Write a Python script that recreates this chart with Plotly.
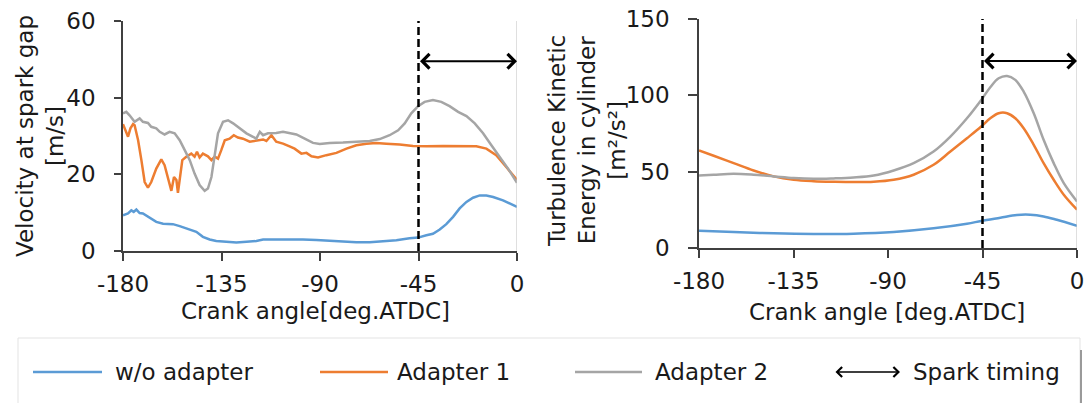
import plotly.graph_objects as go

W, H = 1087, 403

# ---------------- data: velocity at spark gap (left) ----------------
vel_wo_x = [-180, -177.7, -176.2, -175.1, -173.9, -172.4, -170.9, -167.8, -164.8, -161.7, -157.2,
            -154.1, -149.5, -146.5, -143.5, -140.4, -137.4, -132.8, -128.2, -123.6, -119.1, -116,
            -110, -103.9, -97.8, -91.7, -85.6, -79.5, -73.4, -67.3, -61.2, -55.1, -49.1, -45.2,
            -41.4, -38.4, -35.3, -32.3, -29.2, -26.2, -23.1, -20.1, -17, -14, -10.9, -6.4, 0]
vel_wo_y = [9.3, 9.8, 10.6, 10.2, 10.8, 9.9, 9.8, 8.7, 7.6, 7.1, 7.0,
            6.5, 5.6, 5.0, 3.7, 3.0, 2.6, 2.4, 2.2, 2.4, 2.6, 3.0,
            3.0, 3.1, 3.0, 2.9, 2.7, 2.4, 2.3, 2.3, 2.5, 2.8, 3.3, 3.5,
            4.1, 4.5, 5.6, 7.0, 8.9, 11.1, 12.8, 13.9, 14.5, 14.5, 14.1, 13.2, 11.5]

vel_a1_x = [-180, -178.5, -177.7, -176.6, -175.4, -174.7, -173.1, -171.6, -170.1, -168.6, -167.1,
            -164.8, -162.5, -161, -159.4, -157.9, -156.7, -155.6, -154.9, -153.8, -152.9, -151.1,
            -148.8, -147.3, -146.2, -145, -143.5, -141.2, -139.6, -138.1, -136.6, -135.1, -133.5,
            -131.3, -129.4, -127.5, -125.2, -122.1, -119.1, -116, -114.5, -112.2, -110, -106.9,
            -103.9, -101.6, -98.5, -96.2, -93.9, -90.9, -87.1, -82.5, -77.9, -73.4, -68.8, -64.3,
            -59.7, -53.6, -47.5, -41.4, -33.8, -26.2, -18.6, -14, -9.5, -4.9, 0]
vel_a1_y = [33.1, 30.7, 29.8, 32.0, 33.1, 32.8, 28.9, 23.7, 18.0, 16.5, 18.0,
            21.5, 23.9, 22.4, 18.5, 15.7, 19.3, 18.5, 15.2, 20.2, 23.7, 24.6,
            25.4, 24.6, 25.9, 24.4, 25.4, 24.7, 23.7, 24.6, 24.1, 26.3, 28.9,
            29.3, 30.2, 29.6, 29.3, 28.5, 28.7, 29.1, 28.7, 30.2, 28.5, 28.0,
            27.3, 26.7, 25.4, 25.6, 24.7, 24.4, 25.0, 25.6, 26.7, 27.6, 28.0, 28.2,
            28.0, 27.8, 27.4, 27.3, 27.4, 27.4, 27.3, 26.7, 25.0, 21.9, 18.5]

vel_a2_x = [-180, -178.5, -177, -174.7, -172.4, -170.9, -168.6, -167.1, -164.8, -163.2, -161,
            -158.7, -156.4, -154.1, -151.8, -149.5, -147.3, -145, -142.7, -141.2, -139.6, -138.1,
            -136.6, -134.3, -132, -129.7, -126.7, -123.6, -120.6, -119.1, -117.5, -116, -113.8,
            -110, -106.9, -103.9, -100.8, -97, -93.2, -90.1, -85.6, -79.5, -73.4, -67.3, -62.7,
            -58.2, -54.3, -51.3, -48.3, -45.2, -42.2, -38.4, -34.6, -30.8, -26.9, -23.1, -19.3,
            -15.5, -11.7, -7.9, -4.1, 0]
vel_a2_y = [35.9, 36.3, 35.4, 33.7, 34.6, 33.7, 33.4, 32.4, 32.0, 31.1, 30.4,
            31.1, 30.7, 28.9, 26.3, 23.7, 20.2, 17.2, 15.7, 16.3, 19.3, 25.4,
            30.7, 33.7, 34.1, 33.3, 32.0, 30.7, 29.8, 29.3, 31.1, 30.2, 30.7,
            30.8, 31.1, 30.8, 30.4, 29.3, 28.2, 27.9, 28.2, 28.3, 28.5, 28.7, 29.2,
            30.2, 31.5, 33.3, 35.9, 37.8, 38.9, 39.4, 38.9, 37.8, 36.3, 35.2, 33.3,
            30.7, 27.6, 24.6, 21.5, 17.8]

# ---------------- data: turbulence kinetic energy (right) ----------------
tke_wo_x = [-180, -163.5, -144.4, -125.4, -106.4, -87.3, -68.3, -52.4, -45.6, -36.5, -28.6,
            -22.3, -15.9, -9.6, 0]
tke_wo_y = [11.3, 10.5, 9.6, 9.2, 9.4, 10.5, 12.9, 15.9, 17.7, 19.8, 21.6, 21.8, 20.7, 18.5, 14.6]

tke_x = [-180, -173, -163.5, -154, -144.4, -134.9, -125.4, -115.9, -106.4, -96.8, -87.3, -77.8,
         -68.3, -60.3, -52.4, -45.6, -41.3, -37.3, -33.3, -29.4, -25.4, -20.6, -15.9, -11.1,
         -6.3, 0]
tke_a1_y = [63.9, 60.4, 55.6, 50.8, 46.9, 44.7, 43.8, 43.4, 43.2, 43.4, 44.7, 48.0,
            54.5, 63.2, 71.9, 79.6, 85.0, 88.3, 88.3, 85.0, 78.5, 67.6, 55.6, 44.7, 34.9, 25.1]
tke_a2_y = [47.5, 48.0, 48.6, 48.0, 46.9, 45.8, 45.3, 45.6, 46.2, 47.5, 50.8, 55.6,
            63.2, 73.0, 85.0, 97.0, 105.3, 111.2, 112.7, 110.1, 102.5, 88.3, 70.9, 55.6, 42.5, 30.5]

x_ticks = [-180, -135, -90, -45, 0]
x_ticktext = ["-180", "-135", "-90", "-45", "0"]
spark_angle = -45
series_names = ["w/o adapter", "Adapter 1", "Adapter 2"]
colors = ["#5B9BD5", "#ED7D31", "#A5A5A5"]

FONT = "DejaVu Sans"
FS = 23
TXT = "#1a1a1a"
AX = "#404040"


def px(x):
    return x / W


def py(y):
    return 1 - y / H


fig = go.Figure()

# left traces
for xs, ys, c, n in [(vel_wo_x, vel_wo_y, colors[0], series_names[0]),
                     (vel_a1_x, vel_a1_y, colors[1], series_names[1]),
                     (vel_a2_x, vel_a2_y, colors[2], series_names[2])]:
    fig.add_trace(go.Scatter(x=xs, y=ys, mode="lines", name=n, showlegend=False,
                             line=dict(color=c, width=2.5), xaxis="x", yaxis="y"))

# right traces
for xs, ys, c, n in [(tke_wo_x, tke_wo_y, colors[0], series_names[0]),
                     (tke_x, tke_a1_y, colors[1], series_names[1]),
                     (tke_x, tke_a2_y, colors[2], series_names[2])]:
    fig.add_trace(go.Scatter(x=xs, y=ys, mode="lines", name=n, showlegend=False,
                             line=dict(color=c, width=2.5, shape="spline", smoothing=1.0),
                             xaxis="x2", yaxis="y2"))

common_x = dict(range=[-180, 0], tickvals=x_ticks, ticktext=x_ticktext, showgrid=False,
                zeroline=False, showline=True, linecolor=AX, linewidth=1.5, ticks="outside",
                ticklen=8, tickcolor=AX, tickwidth=1.5, tickfont=dict(family=FONT, size=FS, color=TXT),
                ticklabelstandoff=4, automargin=False)
common_y = dict(showgrid=False, zeroline=False, showline=True, linecolor=AX, linewidth=1.5,
                ticks="outside", tickcolor=AX, tickwidth=1.5, automargin=False,
                tickfont=dict(family=FONT, size=FS, color=TXT), ticklabelstandoff=14)

fig.update_layout(
    template="none",
    width=W, height=H, autosize=False,
    margin=dict(l=0, r=0, t=0, b=0, pad=0),
    paper_bgcolor="white", plot_bgcolor="white",
    showlegend=False,
    xaxis=dict(domain=[px(123), px(517)], anchor="y", **common_x),
    yaxis=dict(domain=[py(251), py(21)], anchor="x", range=[0, 60], tickvals=[0, 20, 40, 60],
               ticklen=7, **common_y),
    xaxis2=dict(domain=[px(699), px(1077)], anchor="y2", **common_x),
    yaxis2=dict(domain=[py(248), py(19)], anchor="x2", range=[0, 150], tickvals=[0, 50, 100, 150],
                ticklen=9, **common_y),
)

# right border lines, spark timing dashed lines and arrows
for xr, yr, ytop, yarrow in [("x", "y", 60, 49.5), ("x2", "y2", 150, 122.5)]:
    fig.add_shape(type="line", xref=xr, yref=yr, x0=0, x1=0, y0=0, y1=ytop,
                  line=dict(color="#bfbfbf", width=1))
    fig.add_shape(type="line", xref=xr, yref=yr, x0=spark_angle, x1=spark_angle, y0=0, y1=ytop,
                  line=dict(color="black", width=2.5, dash="8px,4px"))
    fig.add_annotation(xref=xr, yref=yr, axref=xr, ayref=yr, x=0, y=yarrow,
                       ax=spark_angle, ay=yarrow, text="", showarrow=True,
                       arrowside="end+start", arrowhead=4, startarrowhead=4,
                       arrowsize=1.4, startarrowsize=1.4, arrowwidth=2, arrowcolor="black")

# axis titles
fig.add_annotation(xref="paper", yref="paper", x=px(315), y=py(311), text="Crank angle[deg.ATDC]",
                   showarrow=False, font=dict(family=FONT, size=FS, color=TXT),
                   xanchor="center", yanchor="middle")
fig.add_annotation(xref="paper", yref="paper", x=px(887), y=py(312), text="Crank angle [deg.ATDC]",
                   showarrow=False, font=dict(family=FONT, size=FS, color=TXT),
                   xanchor="center", yanchor="middle")
fig.add_annotation(xref="paper", yref="paper", x=px(40), y=py(136),
                   text="Velocity at spark gap<br>[m/s]", textangle=-90,
                   showarrow=False, font=dict(family=FONT, size=FS, color=TXT),
                   xanchor="center", yanchor="middle")
fig.add_annotation(xref="paper", yref="paper", x=px(587), y=py(141),
                   text="Turbulence Kinetic<br>Energy in cylinder<br>[m²/s²]", textangle=-90,
                   showarrow=False, font=dict(family=FONT, size=FS, color=TXT),
                   xanchor="center", yanchor="middle")

# legend box
fig.add_shape(type="rect", xref="paper", yref="paper", x0=px(18), x1=px(1080), y0=py(410), y1=py(338),
              line=dict(color="#e3e3e3", width=1), fillcolor="rgba(0,0,0,0)")
fig.add_shape(type="line", xref="paper", yref="paper", x0=px(1081), x1=px(1081), y0=py(410), y1=py(350),
              line=dict(color="#9a9a9a", width=2))

legend_y = 372
for (x0, x1, tx), c, n in zip([(33, 102, 113), (320, 388, 395), (575, 642, 653)], colors, series_names):
    fig.add_shape(type="line", xref="paper", yref="paper", x0=px(x0), x1=px(x1),
                  y0=py(legend_y), y1=py(legend_y), line=dict(color=c, width=2.5))
    fig.add_annotation(xref="paper", yref="paper", x=px(tx), y=py(legend_y), text=n,
                       showarrow=False, xanchor="left", yanchor="middle",
                       font=dict(family=FONT, size=FS, color=TXT))
fig.add_annotation(xref="paper", yref="paper", x=px(900), y=py(legend_y), ax=-66, ay=0,
                   text="", showarrow=True, arrowside="end+start", arrowhead=4, startarrowhead=4,
                   arrowsize=1.3, startarrowsize=1.3, arrowwidth=1.5, arrowcolor="black")
fig.add_annotation(xref="paper", yref="paper", x=px(911), y=py(legend_y), text="Spark timing",
                   showarrow=False, xanchor="left", yanchor="middle",
                   font=dict(family=FONT, size=FS, color=TXT))

fig.write_html("out.html")
